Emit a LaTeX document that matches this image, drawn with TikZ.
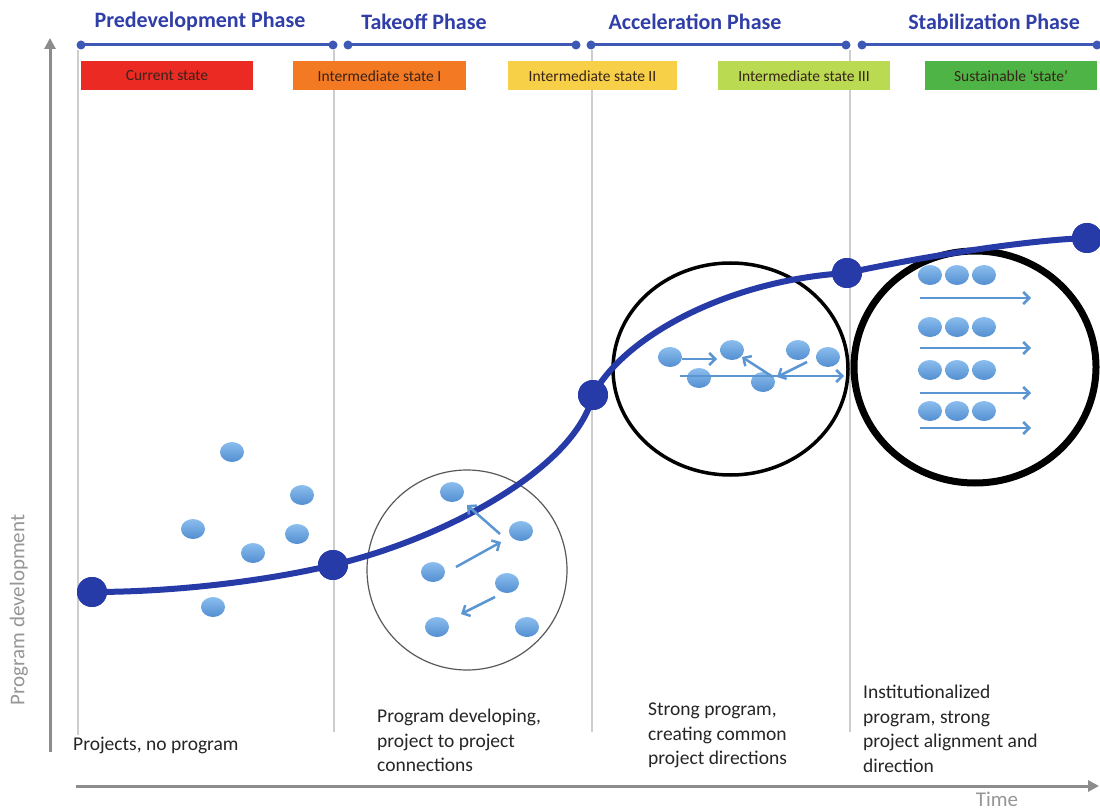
\documentclass[tikz,border=0pt]{standalone}
\usepackage{fontspec}
\setmainfont{Carlito}
\usetikzlibrary{arrows.meta,shapes.geometric}
\definecolor{phaseblue}{RGB}{48,62,168}
\definecolor{barblue}{RGB}{62,88,182}
\definecolor{curveblue}{RGB}{38,58,168}
\definecolor{dottop}{RGB}{140,190,238}
\definecolor{dotbot}{RGB}{82,142,208}
\definecolor{arrblue}{RGB}{92,150,210}
\definecolor{sepgray}{RGB}{205,205,205}
\definecolor{axgray}{RGB}{140,140,140}
\definecolor{txtgray}{RGB}{150,150,150}
\definecolor{sred}{RGB}{236,42,36}
\definecolor{sorange}{RGB}{243,122,34}
\definecolor{syellow}{RGB}{248,208,72}
\definecolor{slime}{RGB}{186,218,82}
\definecolor{sgreen}{RGB}{78,180,70}
\definecolor{boxtext}{RGB}{55,35,25}
\begin{document}
\begin{tikzpicture}[x=1pt,y=-1pt,
  phasetitle/.style={text=phaseblue,font=\fontsize{22}{26}\selectfont\bfseries,inner sep=0pt},
  bardot/.style={circle,fill=barblue,minimum size=9pt,inner sep=0pt},
  phasebar/.style={draw=barblue,line width=3pt},
  statebox/.style={minimum height=29pt,inner sep=0pt,text=boxtext,font=\fontsize{15.5}{18}\selectfont},
  sepline/.style={draw=sepgray,line width=1.8pt},
  axis/.style={draw=axgray,line width=3pt,-{Triangle[length=11pt,width=11pt]}},
  bigdot/.style={circle,fill=curveblue,minimum size=30pt,inner sep=0pt},
  curve/.style={draw=curveblue,line width=6pt},
  pdot/.style={ellipse,top color=dottop,bottom color=dotbot,minimum width=24pt,minimum height=20pt,inner sep=0pt},
  parrow/.style={draw=arrblue,line width=2.5pt,-{Straight Barb[length=6pt,width=12pt]}},
  bottomtext/.style={font=\fontsize{19.5}{24.5}\selectfont,align=left,inner sep=0pt,text=black!85},
]
\fill[white] (0,0) rectangle (1100,810);
\useasboundingbox (0,0) rectangle (1100,810);

% separators
\coordinate (s0t) at (78,50);  \coordinate (s0b) at (78,735);
\coordinate (s1t) at (334,50); \coordinate (s1b) at (334,732);
\coordinate (s2t) at (592,50); \coordinate (s2b) at (592,732);
\coordinate (s3t) at (850,50); \coordinate (s3b) at (850,732);
\draw[sepline] (s0t) -- (s0b);
\draw[sepline] (s1t) -- (s1b);
\draw[sepline] (s2t) -- (s2b);
\draw[sepline] (s3t) -- (s3b);

% axes
\coordinate (yaxb) at (50,752); \coordinate (yaxt) at (50,38);
\draw[axis] (yaxb) -- (yaxt);
\coordinate (xaxl) at (76,786); \coordinate (xaxr) at (1099,786);
\draw[axis] (xaxl) -- (xaxr);
\node[text=txtgray,font=\fontsize{21}{24}\selectfont,inner sep=0pt] (time) at (997,799) {Time};
\node[text=txtgray,font=\fontsize{21}{24}\selectfont,inner sep=0pt,rotate=90] (ylab) at (19,610) {Program development};

% phase titles
\node[phasetitle] (ph1) at (200,22) {Predevelopment Phase};
\node[phasetitle] (ph2) at (424,22) {Takeoff Phase};
\node[phasetitle] (ph3) at (695,22) {Acceleration Phase};
\node[phasetitle] (ph4) at (994,22) {Stabilization Phase};

% phase bars
\node[bardot] (b1a) at (81,45) {};  \node[bardot] (b1b) at (333,45) {};
\node[bardot] (b2a) at (348,45) {}; \node[bardot] (b2b) at (576,45) {};
\node[bardot] (b3a) at (591,45) {}; \node[bardot] (b3b) at (846,45) {};
\node[bardot] (b4a) at (862,45) {}; \node[bardot] (b4b) at (1097,45) {};
\draw[phasebar] (b1a.center) -- (b1b.center);
\draw[phasebar] (b2a.center) -- (b2b.center);
\draw[phasebar] (b3a.center) -- (b3b.center);
\draw[phasebar] (b4a.center) -- (b4b.center);

% state boxes
\node[statebox,fill=sred,minimum width=172pt] (st1) at (167,76) {Current state};
\node[statebox,fill=sorange,minimum width=173pt] (st2) at (379.5,76) {Intermediate state I};
\node[statebox,fill=syellow,minimum width=169pt] (st3) at (592.5,76) {Intermediate state II};
\node[statebox,fill=slime,minimum width=172pt] (st4) at (804,76) {Intermediate state III};
\node[statebox,fill=sgreen,minimum width=172pt] (st5) at (1011,76) {Sustainable `state'};

% circles
\node[circle,draw=black!65,line width=1.2pt,minimum size=200pt,inner sep=0pt] (c1) at (467,570) {};
\node[ellipse,draw=black,line width=3.5pt,minimum width=235pt,minimum height=212pt,inner sep=0pt] (c2) at (730.5,369) {};
\node[ellipse,draw=black,line width=7pt,minimum width=242pt,minimum height=232pt,inner sep=0pt] (c3) at (975,367) {};

% main curve
\node[bigdot] (p1) at (92,592) {};
\node[bigdot] (p2) at (333,565) {};
\node[bigdot] (p3) at (593,395) {};
\node[bigdot] (p4) at (847,273) {};
\node[bigdot] (p5) at (1087,238) {};
\draw[curve] (p1.center) .. controls (180,592) and (270,580) .. (p2.center)
  .. controls (440,540) and (575,470) .. (p3.center)
  .. controls (625,335) and (730,280) .. (p4.center)
  .. controls (930,255) and (1030,240) .. (p5.center);
\node[bigdot] at (p1) {};
\node[bigdot] at (p2) {};
\node[bigdot] at (p3) {};
\node[bigdot] at (p4) {};
\node[bigdot] at (p5) {};

% predevelopment dots
\node[pdot] (d1) at (232,452) {};
\node[pdot] (d2) at (302,495) {};
\node[pdot] (d3) at (193,529) {};
\node[pdot] (d4) at (297,534) {};
\node[pdot] (d5) at (253,553) {};
\node[pdot] (d6) at (213,607) {};

% takeoff dots
\node[pdot] (t1) at (452,492) {};
\node[pdot] (t2) at (521,531) {};
\node[pdot] (t3) at (433,572) {};
\node[pdot] (t4) at (507,583) {};
\node[pdot] (t5) at (437,627) {};
\node[pdot] (t6) at (527,627) {};
\coordinate (ta1s) at (500,534); \coordinate (ta1e) at (467,505);
\coordinate (ta2s) at (456,567); \coordinate (ta2e) at (501,542);
\coordinate (ta3s) at (495,597); \coordinate (ta3e) at (461,614);
\draw[parrow] (ta1s) -- (ta1e);
\draw[parrow] (ta2s) -- (ta2e);
\draw[parrow] (ta3s) -- (ta3e);

% acceleration dots
\node[pdot] (a1) at (670,357) {};
\node[pdot] (a2) at (732,350) {};
\node[pdot] (a3) at (798,350) {};
\node[pdot] (a4) at (828,357) {};
\node[pdot] (a5) at (699,378) {};
\node[pdot] (a6) at (763,382) {};
\coordinate (aa1s) at (682,359); \coordinate (aa1e) at (717,359);
\coordinate (aa2s) at (680,376); \coordinate (aa2e) at (844,376);
\coordinate (aa3s) at (773,377); \coordinate (aa3e) at (742,357);
\coordinate (aa4s) at (807,362); \coordinate (aa4e) at (777,377);
\draw[parrow] (aa1s) -- (aa1e);
\draw[parrow] (aa2s) -- (aa2e);
\draw[parrow] (aa3s) -- (aa3e);
\draw[parrow] (aa4s) -- (aa4e);

% stabilization dots
\foreach \r/\yy in {1/275,2/327,3/370,4/411}{
  \node[pdot] (z\r a) at (930,\yy) {};
  \node[pdot] (z\r b) at (957,\yy) {};
  \node[pdot] (z\r c) at (984,\yy) {};
}
\foreach \r/\yy in {1/298,2/348,3/393,4/428}{
  \coordinate (za\r s) at (920,\yy);
  \coordinate (za\r e) at (1031,\yy);
  \draw[parrow] (za\r s) -- (za\r e);
}

% bottom texts
\node[bottomtext,anchor=west] (bt1) at (73,745) {Projects, no program};
\node[bottomtext,anchor=north west] (bt2) at (377,709) {Program developing,\\project to project\\connections};
\node[bottomtext,anchor=north west] (bt3) at (648,703) {Strong program,\\creating common\\project directions};
\node[bottomtext,anchor=north west] (bt4) at (863,685) {Institutionalized\\program, strong\\project alignment and\\direction};
\end{tikzpicture}
\end{document}
